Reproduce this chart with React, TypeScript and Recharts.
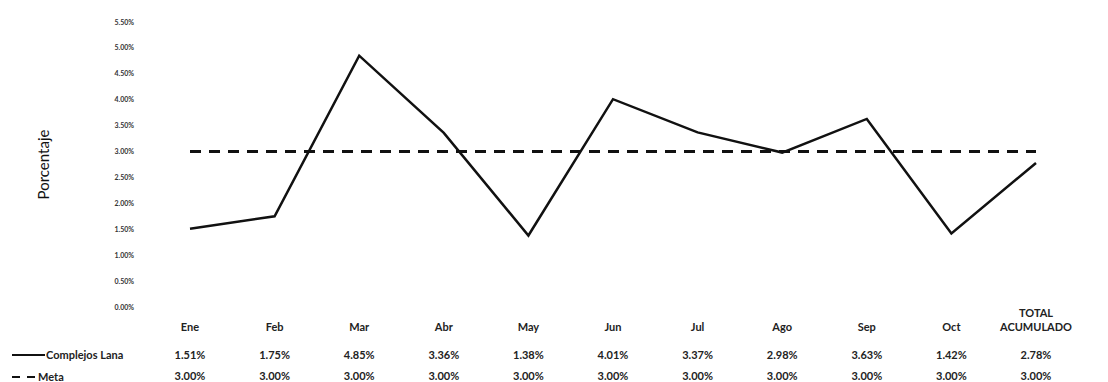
import { LineChart, Line, XAxis, YAxis } from "recharts"

const categories = ["Ene", "Feb", "Mar", "Abr", "May", "Jun", "Jul", "Ago", "Sep", "Oct", "TOTAL ACUMULADO"]
const complejosLana = [1.51, 1.75, 4.85, 3.36, 1.38, 4.01, 3.37, 2.98, 3.63, 1.42, 2.78]
const meta = [3.0, 3.0, 3.0, 3.0, 3.0, 3.0, 3.0, 3.0, 3.0, 3.0, 3.0]
const yTicks = [0, 0.5, 1, 1.5, 2, 2.5, 3, 3.5, 4, 4.5, 5, 5.5]

const data = categories.map((c, i) => ({ cat: c, lana: complejosLana[i], meta: meta[i] }))

const FONT = "Lato, 'Open Sans', sans-serif"
const pct = (v: number) => v.toFixed(2) + "%"

const TableTick = (props: any) => {
    const { x, y, payload, index } = props
    const label: string = payload.value
    const parts = label.split(" ")
    const i = index ?? categories.indexOf(label)
    const common = { textAnchor: "middle" as const, fontSize: 11, fontWeight: 700, fill: "#222", fontFamily: FONT }
    return (
        <g>
            {parts.length > 1 ? (
                <>
                    <text x={x} y={y + 10} {...common}>{parts[0]}</text>
                    <text x={x} y={y + 24} {...common}>{parts[1]}</text>
                </>
            ) : (
                <text x={x} y={y + 24} {...common}>{label}</text>
            )}
            <text x={x} y={y + 52} {...common}>{pct(complejosLana[i])}</text>
            <text x={x} y={y + 73} {...common}>{pct(meta[i])}</text>
        </g>
    )
}

const YTick = (props: any) => {
    const { y, payload } = props
    return (
        <text x={134} y={y + 2.5} textAnchor="end" fontSize={7} fontWeight={700} fill="#333" fontFamily={FONT}>
            {pct(payload.value)}
        </text>
    )
}

export default function App() {
    return (
        <div style={{ position: "absolute", left: 0, top: 0, width: 1108, height: 382, background: "#fff" }}>
            <LineChart
                width={1108}
                height={382}
                data={data}
                margin={{ top: 22, right: 72, left: 0, bottom: 0 }}
            >
                <XAxis
                    dataKey="cat"
                    height={75}
                    axisLine={false}
                    tickLine={false}
                    tickSize={0}
                    tickMargin={0}
                    interval={0}
                    tick={<TableTick />}
                />
                <YAxis
                    width={190}
                    domain={[0, 5.5]}
                    ticks={yTicks}
                    axisLine={false}
                    tickLine={false}
                    tick={<YTick />}
                    label={{
                        value: "Porcentaje",
                        angle: -90,
                        position: "insideLeft",
                        offset: 44,
                        style: { fontSize: 15, fill: "#111", fontFamily: FONT, textAnchor: "middle" },
                    }}
                />
                <Line
                    dataKey="meta"
                    type="linear"
                    stroke="#111"
                    strokeWidth={3}
                    strokeDasharray="11 8"
                    dot={false}
                    isAnimationActive={false}
                />
                <Line
                    dataKey="lana"
                    type="linear"
                    stroke="#111"
                    strokeWidth={2.5}
                    dot={false}
                    isAnimationActive={false}
                />
            </LineChart>
            <svg width={140} height={40} style={{ position: "absolute", left: 0, top: 342 }}>
                <line x1={12} x2={45} y1={13} y2={13} stroke="#111" strokeWidth={2} />
                <text x={46} y={17} fontSize={11} fontWeight={700} fill="#222" fontFamily={FONT}>Complejos Lana</text>
                <line x1={12} x2={36} y1={35} y2={35} stroke="#111" strokeWidth={2} strokeDasharray="8 7" />
                <text x={38} y={39} fontSize={11} fontWeight={700} fill="#222" fontFamily={FONT}>Meta</text>
            </svg>
        </div>
    )
}
